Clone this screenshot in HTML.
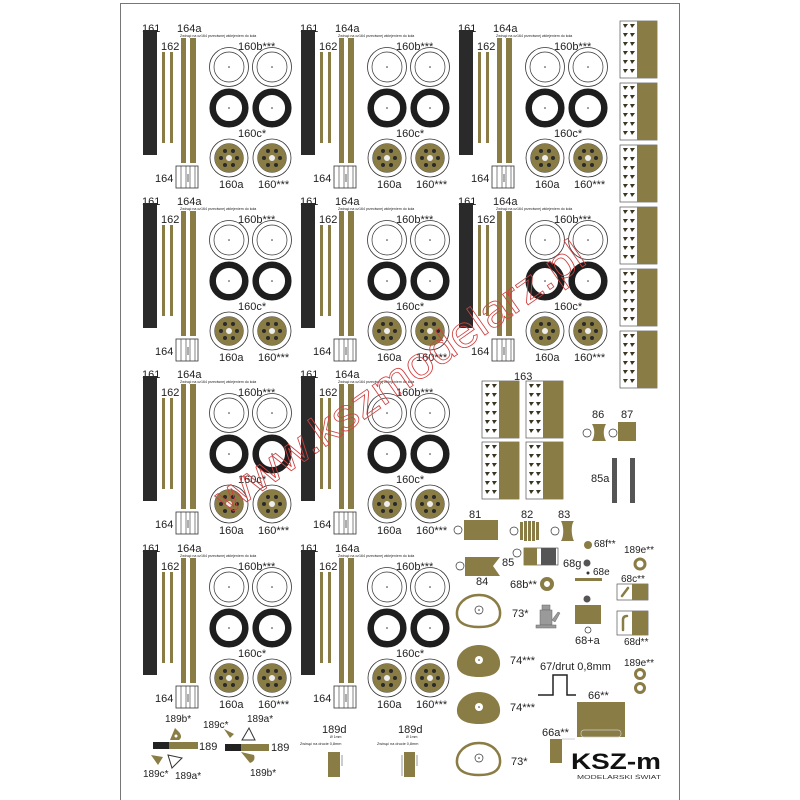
<!DOCTYPE html>
<html><head><meta charset="utf-8"><style>
html,body{margin:0;padding:0;background:#fff;}
svg{display:block;}
text{font-family:"Liberation Sans",sans-serif;fill:#222;}
</style></head><body>
<svg width="800" height="800" viewBox="0 0 800 800" xmlns="http://www.w3.org/2000/svg">
<defs>
<g id="blk">
  <text x="142" y="32" font-size="11">161</text>
  <rect x="143" y="30" width="14" height="125" fill="#2a2a2a"/>
  <text x="161" y="50" font-size="11">162</text>
  <rect x="162" y="52" width="3" height="91" fill="#8a7c45"/>
  <rect x="170" y="52" width="3" height="91" fill="#8a7c45"/>
  <text x="177" y="32" font-size="11">164a</text>
  <text x="180" y="37" font-size="3.6" fill="#444">Zwinąć na cz164 przeciwnej wklejeniem do koła</text>
  <rect x="181" y="38" width="5" height="125" fill="#8a7c45"/>
  <rect x="190" y="38" width="6" height="125" fill="#8a7c45"/>
  <rect x="176" y="166" width="22" height="22" fill="#fff" stroke="#333" stroke-width="0.8"/>
  <line x1="181" y1="166" x2="181" y2="188" stroke="#333" stroke-width="0.6"/>
  <line x1="186" y1="166" x2="186" y2="188" stroke="#333" stroke-width="0.6"/>
  <line x1="190" y1="166" x2="190" y2="188" stroke="#333" stroke-width="0.6"/>
  <line x1="195" y1="166" x2="195" y2="188" stroke="#333" stroke-width="0.6"/>
  <line x1="188" y1="174" x2="188" y2="182" stroke="#333" stroke-width="0.8"/>
  <text x="155" y="182" font-size="11">164</text>
  <text x="238" y="50" font-size="11">160b***</text>
  <circle cx="229" cy="67" r="19.5" fill="#fff" stroke="#333" stroke-width="0.8"/>
  <circle cx="229" cy="67" r="15" fill="none" stroke="#333" stroke-width="0.7"/>
  <circle cx="229" cy="67" r="0.8" fill="#333"/>
  <circle cx="272" cy="67" r="19.5" fill="#fff" stroke="#333" stroke-width="0.8"/>
  <circle cx="272" cy="67" r="15" fill="none" stroke="#333" stroke-width="0.7"/>
  <circle cx="272" cy="67" r="0.8" fill="#333"/>
  <circle cx="229" cy="108" r="16.3" fill="none" stroke="#1e1e1e" stroke-width="6.5"/>
  <circle cx="229" cy="108" r="0.8" fill="#333"/>
  <circle cx="272" cy="108" r="16.3" fill="none" stroke="#1e1e1e" stroke-width="6.5"/>
  <circle cx="272" cy="108" r="0.8" fill="#333"/>
  <text x="238" y="137" font-size="11">160c*</text>
  <g id="hub">
    <circle cx="229" cy="158" r="19" fill="#fff" stroke="#333" stroke-width="0.8"/>
    <circle cx="229" cy="158" r="14.5" fill="#8a7c45" stroke="#555" stroke-width="0.5"/>
    <circle cx="229" cy="158" r="3" fill="#eee"/>
    <circle cx="237" cy="158" r="2" fill="#2a2a2a"/><circle cx="221" cy="158" r="2" fill="#2a2a2a"/>
    <circle cx="233" cy="151" r="2" fill="#2a2a2a"/><circle cx="225" cy="151" r="2" fill="#2a2a2a"/>
    <circle cx="233" cy="165" r="2" fill="#2a2a2a"/><circle cx="225" cy="165" r="2" fill="#2a2a2a"/>
  </g>
  <use href="#hub" x="43"/>
  <text x="219" y="188" font-size="11">160a</text>
  <text x="258" y="188" font-size="11">160***</text>
</g>
<g id="strip">
  <rect x="0" y="0" width="37" height="57" fill="#fff" stroke="#555" stroke-width="0.7"/>
  <rect x="17" y="0" width="20" height="57" fill="#8a7c45"/>
  <g fill="#3a3520">
    <path d="M3,3h5l-3,4z"/><path d="M10,3h5l-3,4z"/>
    <path d="M3,12h5l-3,4z"/><path d="M10,12h5l-3,4z"/>
    <path d="M3,21h5l-3,4z"/><path d="M10,21h5l-3,4z"/>
    <path d="M3,30h5l-3,4z"/><path d="M10,30h5l-3,4z"/>
    <path d="M3,39h5l-3,4z"/><path d="M10,39h5l-3,4z"/>
    <path d="M3,48h5l-3,4z"/><path d="M10,48h5l-3,4z"/>
  </g>
</g>
<path id="egg" d="M0,-15 C14,-15 22,-5 21,5 C20,14 11,17 0,17 C-11,17 -21,14 -22,5 C-23,-5 -14,-15 0,-15Z"/>
</defs>
<rect x="0" y="0" width="800" height="800" fill="#fff"/>
<rect x="120.5" y="3.5" width="559" height="800" fill="#fff" stroke="#777" stroke-width="1"/>

<use href="#blk"/>
<use href="#blk" x="158"/>
<use href="#blk" x="316"/>
<use href="#blk" y="173"/>
<use href="#blk" x="158" y="173"/>
<use href="#blk" x="316" y="173"/>
<use href="#blk" y="346"/>
<use href="#blk" x="158" y="346"/>
<use href="#blk" y="520"/>
<use href="#blk" x="158" y="520"/>

<use href="#strip" x="620" y="21"/>
<use href="#strip" x="620" y="83"/>
<use href="#strip" x="620" y="145"/>
<use href="#strip" x="620" y="207"/>
<use href="#strip" x="620" y="269"/>
<use href="#strip" x="620" y="331"/>

<text x="514" y="380" font-size="11">163</text>
<use href="#strip" x="482" y="381"/>
<use href="#strip" x="526" y="381"/>
<use href="#strip" x="482" y="442"/>
<use href="#strip" x="526" y="442"/>

<text x="592" y="418" font-size="11">86</text>
<circle cx="587" cy="433" r="4" fill="#fff" stroke="#333" stroke-width="0.7"/>
<path d="M592,424h14c-3,5-3,12,0,17h-14c3-5,3-12,0-17z" fill="#8a7c45"/>
<text x="621" y="418" font-size="11">87</text>
<circle cx="613" cy="433" r="4" fill="#fff" stroke="#333" stroke-width="0.7"/>
<rect x="618" y="422" width="18" height="19" fill="#8a7c45"/>
<text x="591" y="482" font-size="11">85a</text>
<rect x="612" y="458" width="5" height="45" fill="#555"/>
<rect x="630" y="458" width="5" height="45" fill="#555"/>

<text x="469" y="518" font-size="11">81</text>
<circle cx="458" cy="530" r="4" fill="#fff" stroke="#333" stroke-width="0.7"/>
<rect x="464" y="520" width="34" height="20" fill="#8a7c45"/>
<text x="521" y="518" font-size="11">82</text>
<circle cx="514" cy="531" r="4" fill="#fff" stroke="#333" stroke-width="0.7"/>
<g fill="#8a7c45"><rect x="520" y="522" width="3" height="18"/><rect x="524" y="521" width="3" height="20"/><rect x="528" y="521" width="3" height="20"/><rect x="532" y="521" width="3" height="20"/><rect x="536" y="522" width="3" height="18"/></g>
<text x="558" y="518" font-size="11">83</text>
<circle cx="555" cy="531" r="4" fill="#fff" stroke="#333" stroke-width="0.7"/>
<path d="M561,521h13c-3,3-3,14,0,20h-13c3-5,3-14,0-20z" fill="#8a7c45"/>
<circle cx="588" cy="545" r="4" fill="#8a7c45"/>
<text x="594" y="547" font-size="10">68f**</text>
<text x="624" y="553" font-size="10">189e**</text>
<circle cx="640" cy="564" r="5" fill="#fff" stroke="#8a7c45" stroke-width="3"/>
<circle cx="517" cy="553" r="4" fill="#fff" stroke="#333" stroke-width="0.7"/>
<rect x="524" y="548" width="34" height="17" fill="#fff" stroke="#555" stroke-width="0.7"/>
<rect x="524" y="548" width="13" height="17" fill="#8a7c45"/>
<rect x="541" y="548" width="15" height="17" fill="#555"/>
<text x="502" y="566" font-size="11">85</text>
<circle cx="587" cy="563" r="3.5" fill="#555"/>
<text x="563" y="567" font-size="11">68g</text>
<circle cx="460" cy="566" r="4" fill="#fff" stroke="#333" stroke-width="0.7"/>
<path d="M465,557h35l-7,9l7,10h-35z" fill="#8a7c45"/>
<text x="476" y="585" font-size="11">84</text>

<circle cx="588" cy="573" r="1.5" fill="#333"/>
<text x="593" y="575" font-size="10">68e</text>
<rect x="575" y="578" width="27" height="3" fill="#8a7c45"/>
<text x="510" y="588" font-size="11">68b**</text>
<circle cx="547" cy="584" r="5" fill="#fff" stroke="#8a7c45" stroke-width="4"/>
<text x="621" y="582" font-size="10">68c**</text>
<rect x="617" y="584" width="31" height="16" fill="#fff" stroke="#555" stroke-width="0.7"/>
<rect x="632" y="584" width="16" height="16" fill="#8a7c45"/>
<line x1="622" y1="596" x2="628" y2="588" stroke="#8a7c45" stroke-width="2.5" stroke-linecap="round"/>

<g transform="translate(479,610)"><use href="#egg" fill="#fff" stroke="#8a7c45" stroke-width="2.5"/><circle r="4" fill="none" stroke="#333" stroke-width="0.7"/><circle r="0.8" fill="#333"/></g>
<text x="512" y="617" font-size="11">73*</text>
<g fill="#9a9a9a" stroke="#666" stroke-width="0.5"><rect x="542" y="605" width="8" height="5"/><rect x="540" y="610" width="12" height="15"/><rect x="536" y="625" width="20" height="3"/><path d="M552,620l6,-8l2,1l-5,9z"/></g>
<circle cx="587" cy="599" r="3.5" fill="#555"/>
<rect x="575" y="605" width="26" height="19" fill="#8a7c45"/>
<circle cx="588" cy="630" r="3" fill="#fff" stroke="#333" stroke-width="0.7"/>
<text x="575" y="644" font-size="11">68+a</text>
<rect x="617" y="611" width="31" height="24" fill="#fff" stroke="#555" stroke-width="0.7"/>
<rect x="632" y="611" width="16" height="24" fill="#8a7c45"/>
<path d="M623,630v-10q0,-4 4,-4" fill="none" stroke="#8a7c45" stroke-width="2.5" stroke-linecap="round"/>
<text x="624" y="645" font-size="10">68d**</text>

<g transform="translate(479,660)"><use href="#egg" fill="#8a7c45"/><circle r="4" fill="#fff"/><circle r="0.8" fill="#333"/></g>
<text x="510" y="664" font-size="11">74***</text>
<text x="540" y="670" font-size="11">67/drut 0,8mm</text>
<path d="M538,695h15v-20h14v20h9" fill="none" stroke="#222" stroke-width="1.5"/>
<text x="624" y="666" font-size="10">189e**</text>
<circle cx="640" cy="674" r="4.5" fill="#fff" stroke="#8a7c45" stroke-width="3"/>
<circle cx="640" cy="688" r="4.5" fill="#fff" stroke="#8a7c45" stroke-width="3"/>

<g transform="translate(479,707)"><use href="#egg" fill="#8a7c45"/><circle r="4" fill="#fff"/><circle r="0.8" fill="#333"/></g>
<text x="510" y="711" font-size="11">74***</text>
<text x="588" y="699" font-size="11">66**</text>
<rect x="577" y="702" width="48" height="35" fill="#8a7c45"/>
<rect x="581" y="730" width="40" height="7" rx="3" fill="none" stroke="#ccc" stroke-width="0.7"/>
<text x="542" y="736" font-size="11">66a**</text>
<rect x="550" y="739" width="12" height="24" fill="#8a7c45"/>
<line x1="562" y1="739" x2="575" y2="739" stroke="#999" stroke-width="0.5"/>

<g transform="translate(479,758)"><use href="#egg" fill="#fff" stroke="#8a7c45" stroke-width="2.5"/><circle r="4" fill="none" stroke="#333" stroke-width="0.7"/><circle r="0.8" fill="#333"/></g>
<text x="511" y="765" font-size="11">73*</text>

<text x="571" y="769" font-size="22" font-weight="bold" style="fill:#111" textLength="90" lengthAdjust="spacingAndGlyphs">KSZ-m</text>
<text x="577" y="779" font-size="5.5" style="fill:#333" textLength="84" lengthAdjust="spacingAndGlyphs">MODELARSKI ŚWIAT</text>

<text x="165" y="722" font-size="10">189b*</text>
<path d="M170,740l5,-12l4,4q4,5 0,8z" fill="#8a7c45"/>
<circle cx="176" cy="736" r="1.5" fill="#fff"/>
<text x="203" y="728" font-size="10">189c*</text>
<path d="M224,729l10,5l-4,4z" fill="#8a7c45"/>
<text x="247" y="722" font-size="10">189a*</text>
<path d="M242,740l7,-12l6,12z" fill="none" stroke="#333" stroke-width="1"/>
<rect x="153" y="742" width="16" height="7" fill="#222"/>
<rect x="169" y="742" width="29" height="7" fill="#8a7c45"/>
<text x="199" y="750" font-size="11">189</text>
<rect x="225" y="744" width="16" height="7" fill="#222"/>
<rect x="241" y="744" width="28" height="7" fill="#8a7c45"/>
<text x="271" y="751" font-size="11">189</text>
<path d="M151,755l12,2l-5,8z" fill="#8a7c45"/>
<text x="143" y="777" font-size="10">189c*</text>
<path d="M168,755l14,3l-10,10z" fill="none" stroke="#333" stroke-width="1"/>
<text x="175" y="779" font-size="10">189a*</text>
<path d="M241,752l13,3q2,6 -4,8z" fill="#8a7c45"/>
<text x="250" y="776" font-size="10">189b*</text>

<text x="322" y="733" font-size="11">189d</text>
<text x="330" y="738" font-size="3.5">Ø 1mm</text>
<text x="300" y="745" font-size="3.8">Zwinąć na drucie 0,8mm</text>
<rect x="328" y="752" width="12" height="25" fill="#8a7c45"/>
<line x1="342" y1="755" x2="342" y2="766" stroke="#555" stroke-width="0.6"/>
<text x="398" y="733" font-size="11">189d</text>
<text x="406" y="738" font-size="3.5">Ø 1mm</text>
<text x="377" y="745" font-size="3.8">Zwinąć na drucie 0,8mm</text>
<rect x="404" y="752" width="11" height="25" fill="#8a7c45"/>
<line x1="402" y1="755" x2="402" y2="776" stroke="#555" stroke-width="0.6"/>
<line x1="417" y1="755" x2="417" y2="766" stroke="#555" stroke-width="0.6"/>

<text x="0" y="0" font-size="44" transform="translate(228,515) rotate(-35)" style="fill:none;stroke:#d04040;stroke-width:0.8" textLength="440" lengthAdjust="spacingAndGlyphs">www.kszmodelarz.pl</text>
</svg>
</body></html>
